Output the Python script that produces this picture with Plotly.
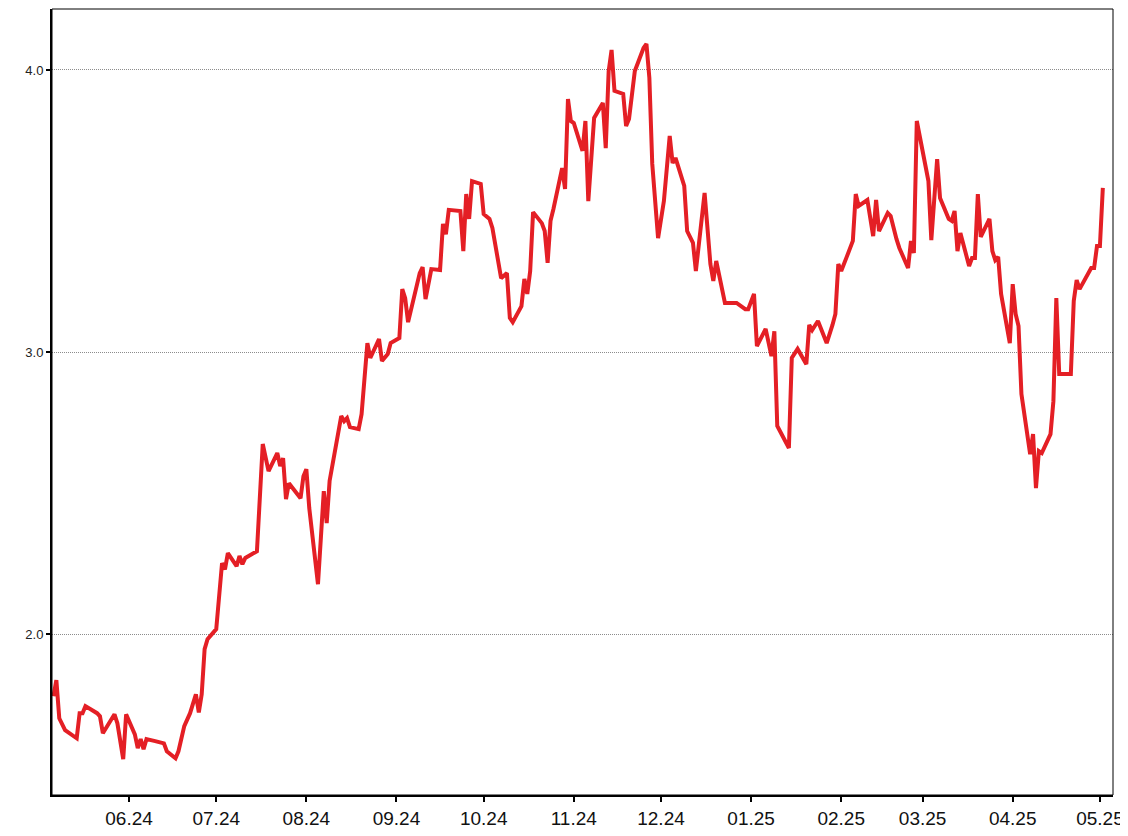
import plotly.graph_objects as go

dates = [
    "2024-05-06", "2024-05-07", "2024-05-08", "2024-05-10", "2024-05-14", "2024-05-15", "2024-05-16", "2024-05-17",
    "2024-05-21", "2024-05-22", "2024-05-23", "2024-05-27", "2024-05-28", "2024-05-30", "2024-05-31",
    "2024-06-03", "2024-06-04", "2024-06-05", "2024-06-06", "2024-06-07", "2024-06-10", "2024-06-13", "2024-06-14",
    "2024-06-17", "2024-06-18", "2024-06-20", "2024-06-22", "2024-06-24", "2024-06-25", "2024-06-26", "2024-06-27",
    "2024-06-28", "2024-07-01",
    "2024-07-03", "2024-07-04", "2024-07-05", "2024-07-08", "2024-07-09", "2024-07-10", "2024-07-11", "2024-07-15",
    "2024-07-17", "2024-07-19", "2024-07-22", "2024-07-23", "2024-07-24", "2024-07-25", "2024-07-26", "2024-07-30",
    "2024-07-31",
    "2024-08-01", "2024-08-02", "2024-08-05", "2024-08-07", "2024-08-08", "2024-08-09", "2024-08-13", "2024-08-14",
    "2024-08-15", "2024-08-16", "2024-08-19", "2024-08-20", "2024-08-22", "2024-08-23", "2024-08-26", "2024-08-27",
    "2024-08-29", "2024-08-30",
    "2024-09-02", "2024-09-03", "2024-09-04", "2024-09-05", "2024-09-09", "2024-09-10", "2024-09-11", "2024-09-13",
    "2024-09-16", "2024-09-17", "2024-09-18", "2024-09-19", "2024-09-23", "2024-09-24", "2024-09-25", "2024-09-26",
    "2024-09-27", "2024-09-30",
    "2024-10-01", "2024-10-03", "2024-10-04", "2024-10-07", "2024-10-09", "2024-10-10", "2024-10-11", "2024-10-14",
    "2024-10-15", "2024-10-16", "2024-10-17", "2024-10-18", "2024-10-21", "2024-10-22", "2024-10-23", "2024-10-24",
    "2024-10-25", "2024-10-28", "2024-10-29", "2024-10-30", "2024-10-31",
    "2024-11-01", "2024-11-04", "2024-11-05", "2024-11-06", "2024-11-08", "2024-11-11", "2024-11-12", "2024-11-13",
    "2024-11-14", "2024-11-15", "2024-11-18", "2024-11-19", "2024-11-20", "2024-11-22", "2024-11-25", "2024-11-26",
    "2024-11-27", "2024-11-28", "2024-11-29", "2024-11-30",
    "2024-12-02", "2024-12-04", "2024-12-05", "2024-12-06", "2024-12-09", "2024-12-10", "2024-12-12", "2024-12-13",
    "2024-12-16", "2024-12-18", "2024-12-19", "2024-12-20", "2024-12-23", "2024-12-27", "2024-12-30", "2024-12-31",
    "2025-01-02", "2025-01-03", "2025-01-06", "2025-01-08", "2025-01-09", "2025-01-10", "2025-01-14", "2025-01-15",
    "2025-01-17", "2025-01-20", "2025-01-21", "2025-01-22", "2025-01-24", "2025-01-27", "2025-01-29", "2025-01-30",
    "2025-01-31", "2025-02-01",
    "2025-02-03", "2025-02-05", "2025-02-06", "2025-02-07", "2025-02-10", "2025-02-12", "2025-02-13", "2025-02-14",
    "2025-02-17", "2025-02-18", "2025-02-20", "2025-02-21", "2025-02-24", "2025-02-25", "2025-02-26", "2025-02-27",
    "2025-03-03", "2025-03-04", "2025-03-06", "2025-03-07", "2025-03-10", "2025-03-11", "2025-03-12", "2025-03-13",
    "2025-03-14", "2025-03-17", "2025-03-18", "2025-03-19", "2025-03-20", "2025-03-21", "2025-03-24", "2025-03-25",
    "2025-03-26", "2025-03-27", "2025-03-28", "2025-03-31",
    "2025-04-01", "2025-04-02", "2025-04-03", "2025-04-04", "2025-04-07", "2025-04-08", "2025-04-09", "2025-04-10",
    "2025-04-11", "2025-04-14", "2025-04-15", "2025-04-16", "2025-04-17", "2025-04-21", "2025-04-22", "2025-04-23",
    "2025-04-24", "2025-04-28", "2025-04-29", "2025-04-30", "2025-05-01", "2025-05-02",
]

values = [
    1.780, 1.837, 1.702, 1.660, 1.631, 1.720, 1.720, 1.745,
    1.720, 1.709, 1.649, 1.716, 1.684, 1.557, 1.716,
    1.645, 1.596, 1.628, 1.592, 1.628, 1.621, 1.613, 1.585,
    1.560, 1.585, 1.674, 1.720, 1.787, 1.723, 1.787, 1.947,
    1.982, 2.018,
    2.252, 2.230, 2.287, 2.241, 2.277, 2.248, 2.270, 2.294,
    2.674, 2.578, 2.642, 2.596, 2.624, 2.479, 2.535, 2.482,
    2.560,
    2.585, 2.447, 2.177, 2.507, 2.394, 2.543, 2.773, 2.755,
    2.766, 2.734, 2.727, 2.780, 3.032, 2.979, 3.046, 2.968,
    2.993, 3.032,
    3.050, 3.223, 3.191, 3.106, 3.280, 3.301, 3.188, 3.294,
    3.291, 3.454, 3.418, 3.504, 3.500, 3.358, 3.560, 3.472,
    3.606, 3.596,
    3.489, 3.472, 3.440, 3.262, 3.280, 3.121, 3.106, 3.163,
    3.259, 3.206, 3.287, 3.496, 3.457, 3.429, 3.316, 3.465,
    3.507, 3.652, 3.578, 3.897, 3.819,
    3.812, 3.713, 3.819, 3.535, 3.830, 3.883, 3.723, 3.996,
    4.071, 3.926, 3.915, 3.801, 3.826, 3.996, 4.078, 4.092,
    3.972, 3.667, 3.525, 3.404,
    3.535, 3.766, 3.670, 3.688, 3.589, 3.429, 3.387, 3.287,
    3.564, 3.312, 3.252, 3.323, 3.174, 3.174, 3.152, 3.152,
    3.206, 3.021, 3.082, 2.986, 3.074, 2.738, 2.660, 2.979,
    3.011, 2.957, 3.096, 3.078, 3.110, 3.032, 3.096, 3.135,
    3.312, 3.287,
    3.340, 3.394, 3.560, 3.518, 3.539, 3.411, 3.539, 3.429,
    3.493, 3.482, 3.401, 3.369, 3.298, 3.394, 3.351, 3.819,
    3.606, 3.397, 3.684, 3.546, 3.472, 3.465, 3.500, 3.358,
    3.422, 3.305, 3.333, 3.333, 3.560, 3.408, 3.472, 3.358,
    3.326, 3.337, 3.206, 3.032,
    3.241, 3.135, 3.092, 2.851, 2.638, 2.709, 2.518, 2.649,
    2.642, 2.709, 2.826, 3.191, 2.922, 2.922, 3.181, 3.255,
    3.223, 3.298, 3.298, 3.376, 3.376, 3.582,
]

y_ticks = [2.0, 3.0, 4.0]
y_tick_labels = ["2.0", "3.0", "4.0"]

fig = go.Figure()
fig.add_trace(go.Scatter(
    x=dates, y=values, mode="lines",
    line=dict(color="#E41F25", width=4),
    hoverinfo="skip",
))

# the page body has an 8px default margin, so the figure is sized/offset to compensate
fig.update_layout(
    width=1120, height=828,
    margin=dict(l=44, r=15, t=1, b=41, autoexpand=False),
    paper_bgcolor="white", plot_bgcolor="white",
    showlegend=False,
    font=dict(family="Liberation Sans, Arial, sans-serif", color="#000000"),
    shapes=[dict(type="rect", xref="paper", yref="paper", x0=0, y0=0, x1=1, y1=1,
                 line=dict(color="black", width=1), layer="above")],
)

fig.update_xaxes(
    type="date", automargin=False,
    range=["2024-05-05 12:00", "2025-05-05 12:00"],
    tickformat="%m.%y", dtick="M1", tick0="2024-06-01",
    ticks="outside", ticklen=5, tickwidth=2, tickcolor="black",
    showline=True, linecolor="black", linewidth=2,
    showgrid=False, zeroline=False,
    tickfont=dict(size=19, color="#111111"),
)

fig.update_yaxes(
    automargin=False,
    range=[1.43, 4.216],
    tickvals=y_ticks, ticktext=y_tick_labels,
    ticks="outside", ticklen=4, tickwidth=2, tickcolor="black",
    showline=True, linecolor="black", linewidth=2,
    showgrid=True, gridcolor="#8c8c8c", gridwidth=1, griddash="1px,1px",
    zeroline=False,
    tickfont=dict(size=13, color="#222222"),
)

fig.write_html("out.html")
